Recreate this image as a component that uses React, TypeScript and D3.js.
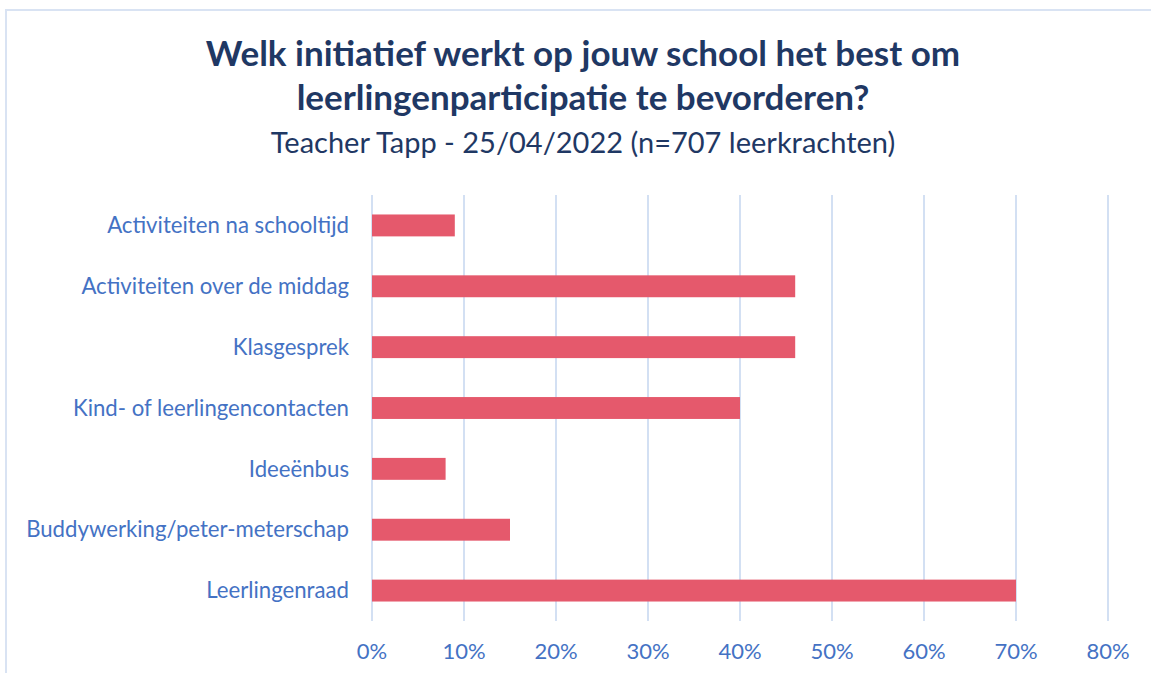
import React from "react";
import * as d3 from "d3";

const categories = [
  "Activiteiten na schooltijd",
  "Activiteiten over de middag",
  "Klasgesprek",
  "Kind- of leerlingencontacten",
  "Ideeënbus",
  "Buddywerking/peter-meterschap",
  "Leerlingenraad",
];
const values = [0.09, 0.46, 0.46, 0.4, 0.08, 0.15, 0.7];
const tickValues = [0, 0.1, 0.2, 0.3, 0.4, 0.5, 0.6, 0.7, 0.8];
const titleLines = [
  "Welk initiatief werkt op jouw school het best om",
  "leerlingenparticipatie te bevorderen?",
];
const subtitle = "Teacher Tapp - 25/04/2022 (n=707 leerkrachten)";

const W = 1151;
const H = 673;
const FONT = "Lato, 'Open Sans', sans-serif";

export default function App() {
  const x = d3.scaleLinear().domain([0, 0.8]).range([372, 1108]);
  const y = d3
    .scaleBand<string>()
    .domain(categories)
    .range([195, 621])
    .paddingInner(0.64)
    .paddingOuter(0.32);
  const fmt = d3.format(".0%");
  const cx = 583;

  return (
    <svg
      width={W}
      height={H}
      style={{ position: "absolute", left: 0, top: 0, background: "#fff" }}
    >
      <rect x={6} y={10} width={1160} height={700} fill="#fff" stroke="#D9E3F3" strokeWidth={2} />
      <text x={cx} y={66} textAnchor="middle" fontFamily={FONT} fontWeight={700} fontSize={35} fill="#1F3864">
        {titleLines[0]}
      </text>
      <text x={cx} y={110} textAnchor="middle" fontFamily={FONT} fontWeight={700} fontSize={35} fill="#1F3864">
        {titleLines[1]}
      </text>
      <text x={cx} y={153} textAnchor="middle" fontFamily={FONT} fontSize={29} fill="#1F3864">
        {subtitle}
      </text>
      {tickValues.map((t) => (
        <line key={"g" + t} x1={x(t)} x2={x(t)} y1={195} y2={621} stroke="#D3E0F3" strokeWidth={2} />
      ))}
      {categories.map((c, i) => (
        <rect
          key={c}
          x={x(0)}
          y={y(c)}
          width={x(values[i]) - x(0)}
          height={y.bandwidth()}
          fill="#E5596C"
        />
      ))}
      {categories.map((c) => (
        <text
          key={"l" + c}
          x={349}
          y={(y(c) as number) + y.bandwidth() / 2}
          dy="0.35em"
          textAnchor="end"
          fontFamily={FONT}
          fontSize={22.2}
          fill="#4472C4"
        >
          {c}
        </text>
      ))}
      {tickValues.map((t) => (
        <text key={"t" + t} x={x(t)} y={659} textAnchor="middle" fontFamily={FONT} fontSize={22} fill="#4472C4">
          {fmt(t)}
        </text>
      ))}
    </svg>
  );
}
